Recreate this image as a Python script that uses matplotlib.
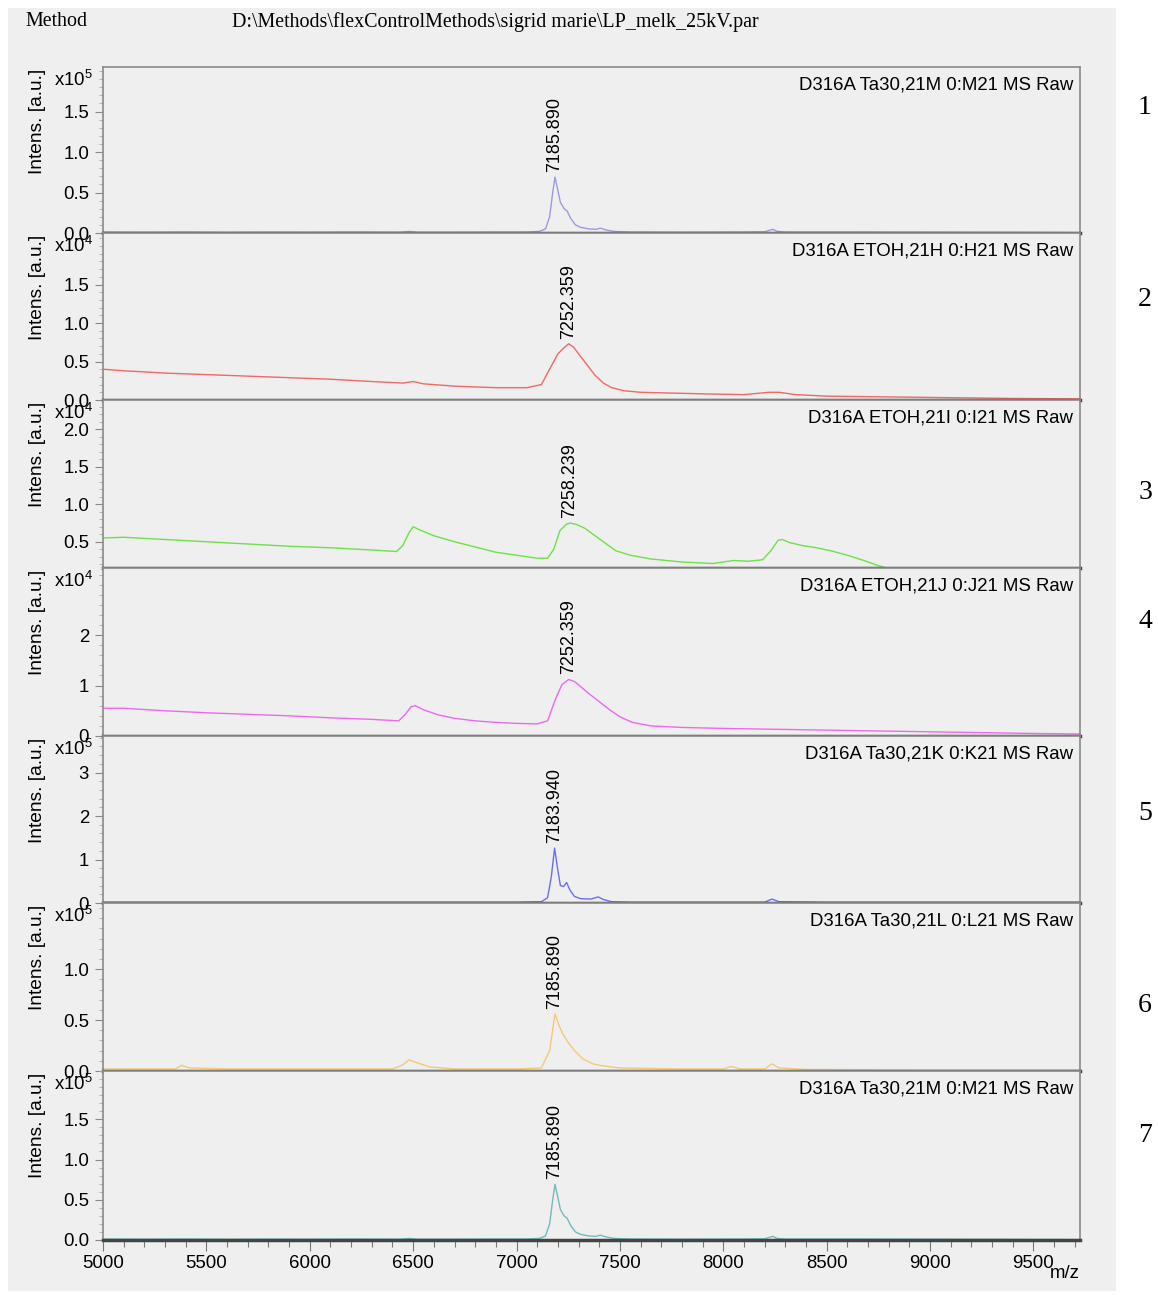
import numpy as np
import matplotlib
matplotlib.use("Agg")
import matplotlib.pyplot as plt
from matplotlib.patches import Rectangle
from matplotlib.ticker import MultipleLocator, FixedLocator, FormatStrFormatter

plt.rcParams["font.family"] = ["Liberation Sans", "DejaVu Sans"]
plt.rcParams["mathtext.default"] = "regular"

W, H = 1158, 1295
BG = "#efefef"

# ── Spektra (m/z, intenzita v jednotkách 10^exp a.u.) ─────────────────────────
MZ_M21 = [5000, 5200, 5400, 5600, 5800, 6000, 6200, 6440, 6480, 6520, 6700, 6900,
          7050, 7110, 7140, 7160, 7175, 7186, 7198, 7212, 7230, 7245, 7262, 7285,
          7310, 7350, 7385, 7405, 7430, 7470, 7550, 7800, 8100, 8200, 8225, 8240,
          8260, 8300, 8600, 9000, 9400, 9725]
INT_M21 = [0.012, 0.010, 0.012, 0.009, 0.011, 0.010, 0.012, 0.010, 0.020, 0.010, 0.010, 0.012,
           0.012, 0.020, 0.050, 0.200, 0.500, 0.690, 0.550, 0.380, 0.300, 0.270, 0.180, 0.100,
           0.070, 0.050, 0.045, 0.060, 0.040, 0.020, 0.012, 0.010, 0.012, 0.015, 0.035, 0.045,
           0.020, 0.012, 0.012, 0.010, 0.008, 0.005]

MZ_H21 = [5000, 5100, 5300, 5500, 5700, 5900, 6100, 6300, 6450, 6500, 6550, 6700, 6900,
          7050, 7120, 7160, 7200, 7230, 7252, 7275, 7300, 7340, 7380, 7420, 7460, 7520,
          7600, 7750, 7900, 8100, 8220, 8270, 8350, 8500, 8800, 9100, 9400, 9725]
INT_H21 = [0.40, 0.38, 0.35, 0.33, 0.31, 0.29, 0.27, 0.24, 0.22, 0.24, 0.21, 0.18, 0.16,
           0.16, 0.20, 0.40, 0.60, 0.68, 0.73, 0.69, 0.60, 0.46, 0.32, 0.22, 0.16, 0.12,
           0.10, 0.09, 0.08, 0.07, 0.10, 0.10, 0.07, 0.05, 0.04, 0.03, 0.02, 0.015]

MZ_I21 = [5000, 5100, 5300, 5500, 5700, 5900, 6100, 6300, 6420, 6450, 6480, 6500, 6530,
          6600, 6700, 6800, 6900, 7000, 7100, 7150, 7180, 7210, 7240, 7258, 7290, 7330,
          7380, 7430, 7480, 7550, 7650, 7800, 7950, 8050, 8120, 8190, 8230, 8265, 8285,
          8320, 8380, 8450, 8520, 8600, 8680, 8740, 8790, 9000, 9725]
INT_I21 = [0.55, 0.56, 0.53, 0.50, 0.47, 0.44, 0.42, 0.39, 0.37, 0.45, 0.62, 0.70, 0.66,
           0.58, 0.50, 0.43, 0.36, 0.32, 0.28, 0.28, 0.40, 0.65, 0.73, 0.75, 0.73, 0.68,
           0.58, 0.48, 0.38, 0.32, 0.27, 0.23, 0.21, 0.25, 0.24, 0.26, 0.38, 0.52, 0.53,
           0.49, 0.45, 0.42, 0.38, 0.32, 0.25, 0.19, 0.15, 0.15, 0.15]

MZ_J21 = [5000, 5100, 5300, 5500, 5700, 5900, 6100, 6300, 6430, 6460, 6490, 6510, 6550,
          6620, 6700, 6800, 6900, 7000, 7100, 7150, 7190, 7220, 7252, 7280, 7310, 7350,
          7400, 7450, 7500, 7560, 7650, 7800, 8000, 8300, 8600, 8900, 9200, 9500, 9725]
INT_J21 = [0.55, 0.55, 0.50, 0.46, 0.43, 0.40, 0.36, 0.33, 0.30, 0.42, 0.58, 0.60, 0.52,
           0.42, 0.35, 0.30, 0.27, 0.25, 0.24, 0.30, 0.75, 1.02, 1.12, 1.08, 0.98, 0.84,
           0.68, 0.52, 0.38, 0.27, 0.20, 0.17, 0.15, 0.13, 0.11, 0.09, 0.07, 0.05, 0.04]

MZ_K21 = [5000, 5500, 6000, 6500, 7000, 7120, 7150, 7168, 7184, 7198, 7212, 7228, 7242,
          7258, 7280, 7310, 7360, 7395, 7420, 7460, 7550, 8000, 8200, 8235, 8270, 8500,
          9000, 9725]
INT_K21 = [0.02, 0.02, 0.02, 0.02, 0.02, 0.03, 0.12, 0.60, 1.26, 0.80, 0.40, 0.38, 0.47,
           0.30, 0.15, 0.10, 0.09, 0.14, 0.08, 0.03, 0.02, 0.02, 0.02, 0.09, 0.03, 0.02,
           0.02, 0.02]

MZ_L21 = [5000, 5200, 5350, 5380, 5420, 5600, 6000, 6400, 6450, 6480, 6520, 6580, 6700,
          7000, 7120, 7160, 7186, 7205, 7225, 7250, 7280, 7320, 7370, 7420, 7500, 7800,
          8000, 8040, 8080, 8200, 8235, 8270, 8400, 9000, 9725]
INT_L21 = [0.02, 0.02, 0.02, 0.055, 0.03, 0.02, 0.02, 0.02, 0.06, 0.11, 0.08, 0.04, 0.02,
           0.02, 0.03, 0.20, 0.56, 0.45, 0.36, 0.28, 0.20, 0.12, 0.07, 0.05, 0.03, 0.02,
           0.02, 0.045, 0.02, 0.02, 0.07, 0.03, 0.015, 0.01, 0.01]

# popisky panelů, barvy, exponent, rozsah y, popsané ticky, popsaný pík
NAMES = ["D316A Ta30,21M 0:M21 MS Raw", "D316A ETOH,21H 0:H21 MS Raw",
         "D316A ETOH,21I 0:I21 MS Raw", "D316A ETOH,21J 0:J21 MS Raw",
         "D316A Ta30,21K 0:K21 MS Raw", "D316A Ta30,21L 0:L21 MS Raw",
         "D316A Ta30,21M 0:M21 MS Raw"]
COLORS = ["#9a9ae2", "#f06868", "#6ee048", "#ee68ee", "#6a6ef2", "#f4c878", "#72baba"]
EXPONENTS = [5, 4, 4, 4, 5, 5, 5]
YLIMS = [(0, 2.05), (0, 2.17), (0.15, 2.39), (0, 3.33), (0, 3.84), (0, 1.65), (0, 2.1)]
YTICKS = [[0, 0.5, 1.0, 1.5], [0, 0.5, 1.0, 1.5], [0.5, 1.0, 1.5, 2.0], [0, 1, 2],
          [0, 1, 2, 3], [0, 0.5, 1.0], [0, 0.5, 1.0, 1.5]]
YMINOR = [0.1, 0.1, 0.1, 0.2, 0.2, 0.1, 0.1]
YFORMATS = ["%.1f", "%.1f", "%.1f", "%d", "%d", "%.1f", "%.1f"]
PEAK_MZ = [7185.890, 7252.359, 7258.239, 7252.359, 7183.940, 7185.890, 7185.890]
PEAK_INT = [0.69, 0.73, 0.75, 1.12, 1.26, 0.56, 0.69]
SPECTRA = [(MZ_M21, INT_M21), (MZ_H21, INT_H21), (MZ_I21, INT_I21), (MZ_J21, INT_J21),
           (MZ_K21, INT_K21), (MZ_L21, INT_L21), (MZ_M21, INT_M21)]

# hranice panelů v pixelech od horního okraje
PANEL_EDGES = [67, 233, 400, 568, 736, 903, 1071, 1240]
NUMBER_Y = [107, 299, 493, 622, 813, 1006, 1135]
X_LEFT, X_RIGHT = 103, 1080
XLIM = (5000, 9725)
FS = 13.4

fig = plt.figure(figsize=(W / 100, H / 100), dpi=100, facecolor="white")
fig.patches.append(Rectangle((8 / W, 1 - 1291 / H), 1108 / W, 1283 / H,
                             transform=fig.transFigure, facecolor=BG,
                             edgecolor="none", zorder=-10))

fig.text(25 / W, 1 - 22 / H, "Method", family="Liberation Serif", fontsize=14.4,
         ha="left", va="center")
fig.text(232 / W, 1 - 22 / H, r"D:\Methods\flexControlMethods\sigrid marie\LP_melk_25kV.par",
         family="Liberation Serif", fontsize=14.4, ha="left", va="center")

for i in range(7):
    top, bot = PANEL_EDGES[i], PANEL_EDGES[i + 1]
    ax = fig.add_axes([X_LEFT / W, 1 - bot / H, (X_RIGHT - X_LEFT) / W, (bot - top) / H])
    ax.set_facecolor(BG)
    mz, inten = SPECTRA[i]
    ax.plot(mz, inten, color=COLORS[i], linewidth=1.0)
    ax.set_xlim(*XLIM)
    ax.set_ylim(*YLIMS[i])

    ax.yaxis.set_major_locator(FixedLocator(YTICKS[i]))
    ax.yaxis.set_minor_locator(MultipleLocator(YMINOR[i]))
    ax.yaxis.set_major_formatter(FormatStrFormatter(YFORMATS[i]))
    ax.tick_params(axis="y", which="major", direction="out", length=6, width=0.8,
                   color="#888888", labelsize=FS, pad=4)
    ax.tick_params(axis="y", which="minor", direction="out", length=3, width=0.6,
                   color="#aaaaaa")

    for side in ("left", "right", "top"):
        ax.spines[side].set_color("#8a8a8a")
        ax.spines[side].set_linewidth(1.2)
    ax.spines["bottom"].set_color("#444444")
    ax.spines["bottom"].set_linewidth(2.5)

    ax.annotate(NAMES[i], xy=(1, 1), xycoords="axes fraction", xytext=(-7, -18),
                textcoords="offset pixels", ha="right", va="center", fontsize=FS)
    ax.annotate(f"x10$^{{{EXPONENTS[i]}}}$", xy=(0, 1), xycoords="axes fraction",
                xytext=(-10, -13), textcoords="offset pixels", ha="right", va="center",
                fontsize=FS)
    ax.annotate("Intens. [a.u.]", xy=(0, 1), xycoords="axes fraction", xytext=(-66, -2),
                textcoords="offset pixels", ha="center", va="top", rotation=90,
                fontsize=13.8)
    ax.annotate(f"{PEAK_MZ[i]:.3f}", xy=(PEAK_MZ[i], PEAK_INT[i]), xytext=(0, 5),
                textcoords="offset pixels", ha="center", va="bottom", rotation=90,
                fontsize=13)

    if i < 6:
        ax.tick_params(axis="x", which="both", bottom=False, labelbottom=False)
    else:
        ax.xaxis.set_major_locator(MultipleLocator(500))
        ax.xaxis.set_minor_locator(MultipleLocator(100))
        ax.tick_params(axis="x", which="major", direction="out", length=8, width=0.8,
                       color="#777777", labelsize=FS, pad=3)
        ax.tick_params(axis="x", which="minor", direction="out", length=5, width=0.8,
                       color="#777777")
        ax.annotate("m/z", xy=(1, 0), xycoords="axes fraction", xytext=(0, -33),
                    textcoords="offset pixels", ha="right", va="center", fontsize=FS)

for n, y in enumerate(NUMBER_Y, start=1):
    fig.text(1145 / W, 1 - y / H, str(n), family="Liberation Serif", fontsize=20,
             ha="center", va="center")

fig.savefig("out.png", dpi=100, facecolor="white")
